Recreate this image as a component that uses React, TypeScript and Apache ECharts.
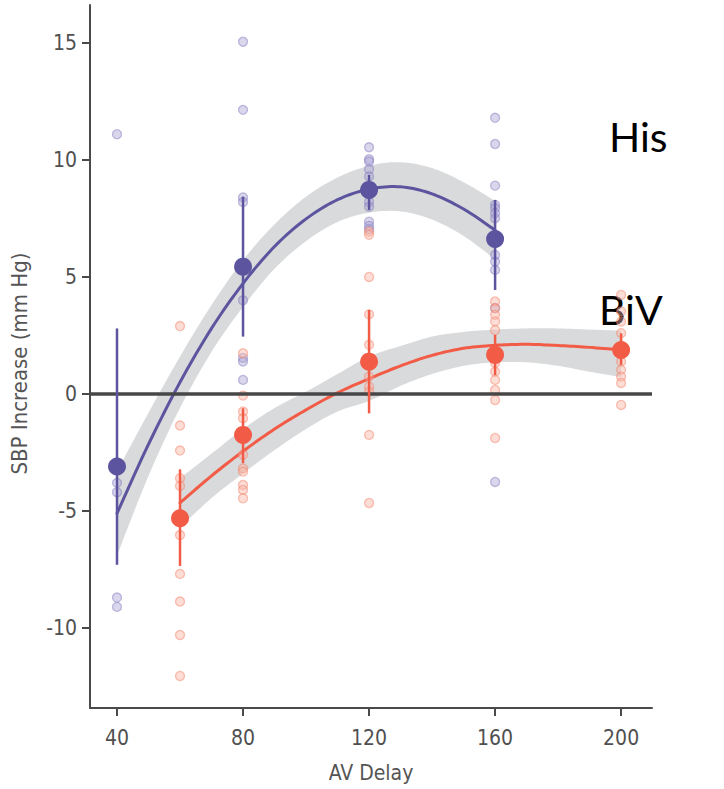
import React, { useEffect, useRef } from "react";
import * as echarts from "echarts";

// ---------- tick values ----------
const xTicks = [40, 80, 120, 160, 200];
const yTicks = [-10, -5, 0, 5, 10, 15];

// ---------- individual patient points ----------
const hisAV = [40, 80, 120, 160];
const hisPoints = [
  [11.1, -3.8, -4.2, -8.7, -9.1],
  [15.05, 12.14, 8.4, 8.2, 4.0, 1.54, 1.38, 0.6],
  [10.54, 10.03, 9.93, 9.6, 9.29, 8.2, 8.0, 7.36, 7.18, 7.04],
  [11.8, 10.68, 8.9, 8.08, 7.94, 7.72, 7.51, 5.94, 5.65, 5.3, 3.67, -3.76],
];
const bivAV = [60, 80, 120, 160, 200];
const bivPoints = [
  [2.9, -1.35, -2.42, -3.6, -3.93, -6.03, -7.69, -8.87, -10.3, -12.05],
  [1.74, -0.07, -0.75, -1.04, -1.8, -2.6, -3.18, -3.32, -3.89, -4.1, -4.46],
  [6.94, 6.8, 5.0, 3.4, 2.1, 0.74, 0.31, 0.1, -1.75, -4.66],
  [3.95, 3.66, 3.38, 3.1, 2.73, 1.32, 0.95, 0.6, 0.17, -0.26, -1.88],
  [4.23, 3.52, 3.09, 2.6, 1.38, 1.03, 0.74, 0.47, -0.47],
];

// ---------- group means and error bars ----------
const hisMean = [-3.1, 5.44, 8.72, 6.62];
const hisLow = [-7.3, 2.45, 7.86, 4.44];
const hisHigh = [2.8, 8.43, 9.36, 8.29];
const bivMean = [-5.31, -1.75, 1.38, 1.67, 1.88];
const bivLow = [-7.35, -2.96, -0.83, 0.81, 1.24];
const bivHigh = [-3.22, -0.61, 3.59, 2.52, 2.59];

// ---------- fitted curves with confidence bands ----------
const hisFitX = [40, 50, 60, 70, 80, 90, 100, 110, 120, 130, 140, 150, 160];
const hisFit = [-5.1, -2.15, 0.5, 2.8, 4.72, 6.3, 7.48, 8.3, 8.75, 8.85, 8.55, 7.9, 7.0];
const hisBandHi = [-3.3, -0.8, 1.6, 3.8, 5.72, 7.25, 8.43, 9.25, 9.75, 9.9, 9.65, 9.05, 8.25];
const hisBandLo = [-6.9, -3.5, -0.6, 1.8, 3.72, 5.35, 6.53, 7.35, 7.75, 7.8, 7.45, 6.75, 5.75];

const bivFitX = [60, 70, 80, 90, 100, 110, 120, 130, 140, 150, 160, 170, 180, 190, 200];
const bivFit = [-4.65, -3.5, -2.45, -1.5, -0.68, 0.05, 0.65, 1.2, 1.65, 1.95, 2.08, 2.12, 2.07, 1.99, 1.88];
const bivBandHi = [-3.6, -2.55, -1.5, -0.6, 0.1, 0.85, 1.6, 2.05, 2.45, 2.65, 2.75, 2.8, 2.8, 2.75, 2.7];
const bivBandLo = [-5.7, -4.45, -3.4, -2.4, -1.5, -0.75, -0.3, 0.35, 0.85, 1.2, 1.35, 1.35, 1.2, 0.95, 0.72];

const PURPLE = "#5d549f";
const RED = "#f25c47";
const AXIS_FONT = '"Liberation Sans Narrow", "DejaVu Sans Condensed", "Roboto", sans-serif';

// Catmull-Rom smoothing of pixel coordinates (rendering only)
function spline(pts: number[][], steps = 10): number[][] {
  const out: number[][] = [];
  const n = pts.length;
  for (let i = 0; i < n - 1; i++) {
    const p0 = pts[Math.max(0, i - 1)];
    const p1 = pts[i];
    const p2 = pts[i + 1];
    const p3 = pts[Math.min(n - 1, i + 2)];
    for (let s = 0; s < steps; s++) {
      const t = s / steps;
      const t2 = t * t;
      const t3 = t2 * t;
      const f = (a: number, b: number, c: number, d: number) =>
        0.5 * (2 * b + (-a + c) * t + (2 * a - 5 * b + 4 * c - d) * t2 + (-a + 3 * b - 3 * c + d) * t3);
      out.push([f(p0[0], p1[0], p2[0], p3[0]), f(p0[1], p1[1], p2[1], p3[1])]);
    }
  }
  out.push(pts[n - 1]);
  return out;
}

function bandSeries(xs: number[], lo: number[], hi: number[]) {
  return {
    type: "custom",
    silent: true,
    z: 1,
    encode: { x: 0, y: [1, 2] },
    data: xs.map((x, i) => [x, lo[i], hi[i]]),
    renderItem: (params: any, api: any) => {
      if (params.dataIndex !== 0) return null;
      const up = spline(xs.map((x, i) => api.coord([x, hi[i]])));
      const dn = spline(xs.map((x, i) => api.coord([x, lo[i]]))).reverse();
      return { type: "polygon", shape: { points: up.concat(dn) }, style: { fill: "#d9dadb" } };
    },
  };
}

function curveSeries(xs: number[], ys: number[], color: string) {
  return {
    type: "custom",
    silent: true,
    z: 3,
    encode: { x: 0, y: 1 },
    data: xs.map((x, i) => [x, ys[i]]),
    renderItem: (params: any, api: any) => {
      if (params.dataIndex !== 0) return null;
      const pts = spline(xs.map((x, i) => api.coord([x, ys[i]])));
      return {
        type: "polyline",
        shape: { points: pts },
        style: { stroke: color, lineWidth: 3, fill: null, lineCap: "round", lineJoin: "round" },
      };
    },
  };
}

function errorSeries(xs: number[], lo: number[], hi: number[], color: string) {
  return {
    type: "custom",
    silent: true,
    z: 5,
    encode: { x: 0, y: [1, 2] },
    data: xs.map((x, i) => [x, lo[i], hi[i]]),
    renderItem: (params: any, api: any) => {
      const a = api.coord([api.value(0), api.value(1)]);
      const b = api.coord([api.value(0), api.value(2)]);
      return {
        type: "line",
        shape: { x1: a[0], y1: a[1], x2: b[0], y2: b[1] },
        style: { stroke: color, lineWidth: 2.5 },
      };
    },
  };
}

function flatten(xs: number[], groups: number[][]) {
  const out: number[][] = [];
  xs.forEach((x, i) => groups[i].forEach((v) => out.push([x, v])));
  return out;
}

export default function App() {
  const ref = useRef<HTMLDivElement>(null);
  useEffect(() => {
    if (!ref.current) return;
    const chart = echarts.init(ref.current, undefined, { renderer: "svg" });
    chart.setOption({
      animation: false,
      backgroundColor: "#ffffff",
      grid: { left: 90, right: 72, top: 5, bottom: 81, containLabel: false },
      xAxis: {
        type: "value",
        min: 31.43,
        max: 209.8,
        name: "AV Delay",
        nameLocation: "middle",
        nameGap: 54,
        nameTextStyle: { color: "#555", fontSize: 21, fontFamily: AXIS_FONT },
        axisLine: { onZero: false, lineStyle: { color: "#4a4a4a", width: 2 } },
        axisTick: { show: true, customValues: xTicks, length: 8, lineStyle: { color: "#4a4a4a", width: 2 } },
        axisLabel: { customValues: xTicks, color: "#505050", fontSize: 21, margin: 19, fontFamily: AXIS_FONT },
        splitLine: { show: false },
      },
      yAxis: {
        type: "value",
        min: -13.42,
        max: 16.62,
        name: "SBP Increase (mm Hg)",
        nameLocation: "middle",
        nameRotate: 90,
        nameGap: 60,
        nameTextStyle: { color: "#555", fontSize: 22, fontFamily: AXIS_FONT, padding: [0, 14, 0, 0] },
        axisLine: { show: true, onZero: false, lineStyle: { color: "#4a4a4a", width: 2 } },
        axisTick: { show: true, customValues: yTicks, length: 8, lineStyle: { color: "#4a4a4a", width: 2 } },
        axisLabel: { customValues: yTicks, color: "#505050", fontSize: 21, margin: 13, fontFamily: AXIS_FONT },
        splitLine: { show: false },
      },
      graphic: [
        {
          type: "text",
          left: 609,
          top: 116,
          style: { text: "His", font: '41px Lato, "Open Sans", sans-serif', fill: "#000" },
        },
        {
          type: "text",
          left: 599,
          top: 289,
          style: { text: "BiV", font: '41px Lato, "Open Sans", sans-serif', fill: "#000" },
        },
      ],
      series: [
        bandSeries(hisFitX, hisBandLo, hisBandHi),
        bandSeries(bivFitX, bivBandLo, bivBandHi),
        {
          type: "line",
          data: [],
          z: 2,
          silent: true,
          markLine: {
            silent: true,
            symbol: "none",
            label: { show: false },
            lineStyle: { color: "#474747", width: 3.5, type: "solid" },
            data: [{ yAxis: 0 }],
          },
        },
        curveSeries(hisFitX, hisFit, PURPLE),
        curveSeries(bivFitX, bivFit, RED),
        {
          type: "scatter",
          z: 4,
          symbolSize: 9,
          data: flatten(hisAV, hisPoints),
          itemStyle: { color: "rgba(170,165,212,0.55)", borderColor: "rgba(128,122,190,0.6)", borderWidth: 1.3 },
        },
        {
          type: "scatter",
          z: 4,
          symbolSize: 9,
          data: flatten(bivAV, bivPoints),
          itemStyle: { color: "rgba(250,180,163,0.55)", borderColor: "rgba(242,128,102,0.6)", borderWidth: 1.3 },
        },
        errorSeries(hisAV, hisLow, hisHigh, PURPLE),
        errorSeries(bivAV, bivLow, bivHigh, RED),
        {
          type: "scatter",
          z: 6,
          symbolSize: 18,
          data: hisAV.map((x, i) => [x, hisMean[i]]),
          itemStyle: { color: PURPLE, opacity: 1 },
        },
        {
          type: "scatter",
          z: 6,
          symbolSize: 18,
          data: bivAV.map((x, i) => [x, bivMean[i]]),
          itemStyle: { color: RED, opacity: 1 },
        },
      ],
    });
    return () => chart.dispose();
  }, []);
  return <div ref={ref} style={{ width: 724, height: 789, position: "absolute", left: 0, top: 0 }} />;
}
